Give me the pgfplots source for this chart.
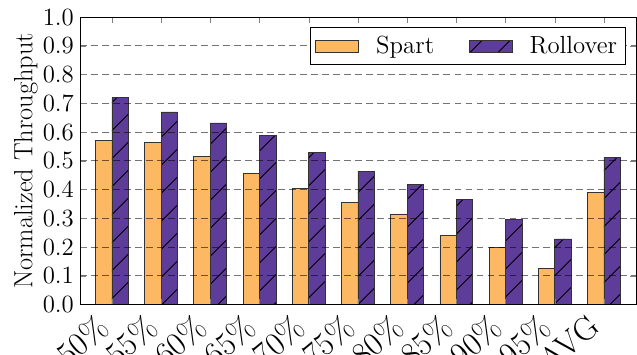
\documentclass[border=0pt]{standalone}
\usepackage{pgfplots}
\pgfplotsset{compat=1.18}
\usetikzlibrary{patterns.meta}
\definecolor{cOr}{HTML}{FDB863}
\definecolor{cPu}{HTML}{5E3C99}
\begin{document}
\begin{tikzpicture}
\begin{axis}[
  width=323pt, height=167pt, scale only axis,
  ybar, bar width=0.335, bar shift auto={0},
  xmin=-0.65, xmax=10.65, ymin=0, ymax=1.0,
  xtick={0,...,10},
  xticklabels={50\%,55\%,60\%,65\%,70\%,75\%,80\%,85\%,90\%,95\%,AVG},
  xticklabel style={xshift=-10pt, yshift=-4.5pt, rotate=40, anchor=north east, font=\fontsize{19}{22}\selectfont, inner sep=0pt},
  ytick={0,0.1,...,1.0},
  yticklabel style={font=\Large, /pgf/number format/.cd, fixed, fixed zerofill, precision=1},
  ylabel={Normalized Throughput}, ylabel style={font=\fontsize{15.3}{18}\selectfont, yshift=-4pt},
  tick align=inside, major tick length=3.5pt,
  xtick pos=both, ytick pos=both,
  ymajorgrids, major grid style={black, opacity=0.55, dash pattern=on 4pt off 2.4pt},
  axis on top,
  legend style={at={(0.982,0.965)}, anchor=north east, font=\Large, legend columns=2, draw=black,
    /tikz/every odd column/.append style={column sep=8pt},
    /tikz/every even column/.append style={column sep=18pt}, inner sep=3pt,
    nodes={inner sep=2pt}},
  legend image code/.code={\draw[#1] (0pt,-3.5pt) rectangle (25pt,3.5pt);},
]
\addplot[draw=black!80, fill=cOr, bar shift=-0.1675] coordinates {
(0,0.570) (1,0.563) (2,0.516) (3,0.456) (4,0.405) (5,0.354) (6,0.315) (7,0.239) (8,0.199) (9,0.127) (10,0.391)};
\addplot[draw=black!80, fill=cPu, postaction={pattern={Lines[angle=45, distance=11.5pt, line width=0.45pt]}, pattern color=black}, bar shift=0.1675] coordinates {
(0,0.720) (1,0.670) (2,0.632) (3,0.589) (4,0.530) (5,0.463) (6,0.417) (7,0.365) (8,0.296) (9,0.228) (10,0.512)};
\legend{Spart, Rollover}
\end{axis}
\pgfresetboundingbox
\path ([shift={(-46.4pt,-29pt)}]current axis.south west) rectangle ([shift={(0.6pt,9.9pt)}]current axis.north east);
\end{tikzpicture}
\end{document}
